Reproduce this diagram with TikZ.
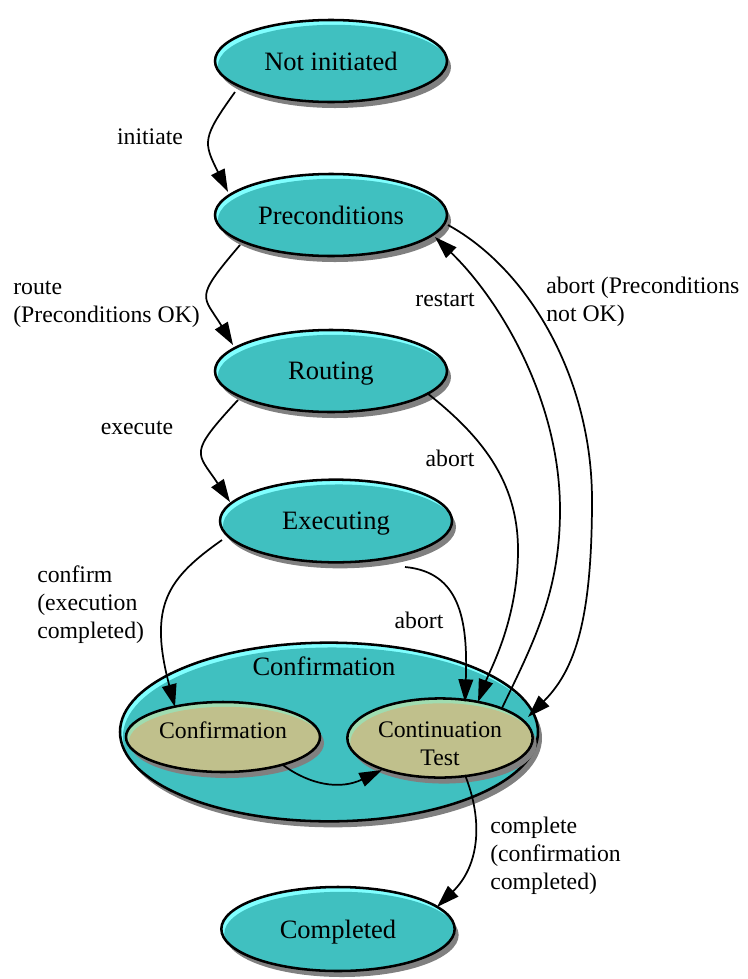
\documentclass[tikz,border=0pt]{standalone}
\usepackage{fontspec}
\setmainfont{Liberation Serif}
\usetikzlibrary{shapes.geometric,arrows.meta,calc,shadows}
\definecolor{teal0}{HTML}{40C0C0}
\definecolor{cyanhl}{HTML}{80FFFF}
\definecolor{khaki0}{HTML}{C0C08C}
\definecolor{minthl}{HTML}{A0DCB0}
\definecolor{shadowgray}{HTML}{808080}
\begin{document}
\begin{tikzpicture}[x=0.75pt,y=-0.75pt,
  hilite/.style 2 args={fill=#1, path picture={\fill[#2] let \p1=(path picture bounding box.north east), \p2=(path picture bounding box.center) in (\x2+2.2pt,\y2-3.6pt) ellipse [x radius=\x1-\x2, y radius=\y1-\y2];}},
  stateshape/.style 2 args={ellipse, draw=black, line width=1.9pt, inner sep=0pt, minimum width=#1, minimum height=#2, general shadow={fill=shadowgray, shadow xshift=3pt, shadow yshift=-4.5pt}},
  state/.style 2 args={stateshape={#1}{#2}, hilite={cyanhl}{teal0}, font=\fontsize{19.9}{23}\selectfont, text depth=0pt},
  substate/.style 2 args={stateshape={#1}{#2}, hilite={minthl}{khaki0}, font=\fontsize{17.8}{21}\selectfont, align=center},
  lbl/.style={font=\fontsize{17.8}{21}\selectfont, inner sep=0pt},
  edge/.style={line width=1.3pt, -{Triangle[length=17pt,width=11pt]}},
]
\useasboundingbox (0,0) rectangle (747,979);

\node[state={174pt}{61.5pt}] (ni) at (331,61) {Not initiated};
\node[state={174pt}{61.5pt}] (pc) at (331,215) {Preconditions};
\node[state={174pt}{61.5pt}] (rt) at (331,371) {Routing};
\node[state={174pt}{62pt}] (ex) at (336,521) {Executing};
\node[state={313.5pt}{134pt}] (conf) at (329,732) {};
\node[font=\fontsize{19.9}{23}\selectfont, inner sep=0pt] (conflbl) at (324,666) {Confirmation};
\node[substate={145.5pt}{52.5pt}, text depth=10.5pt] (cf) at (223,737) {Confirmation};
\node[substate={139pt}{56pt}] (ct) at (440,738) {\raisebox{0pt}[\dimexpr\height+9pt\relax]{Continuation}\\Test};
\node[state={175pt}{63pt}] (cp) at (338,929) {Completed};

\draw[edge] ([shift={(-96,31)}]ni.center) .. controls (202,138) and (203,142) .. ([shift={(-103,-23)}]pc.center);
\draw[edge] ([shift={(-91,30)}]pc.center) .. controls (193,300) and (203,295) .. ([shift={(-98,-26)}]rt.center);
\draw[edge] ([shift={(-93,29)}]rt.center) .. controls (187,455) and (197,452) .. ([shift={(-106,-19)}]ex.center);
\draw[edge] ([shift={(-114,19)}]ex.center) .. controls (168,578) and (148,605) .. ([shift={(-48,-30)}]cf.center);
\draw[edge] ([shift={(69,46)}]ex.center) .. controls (460,572) and (468,620) .. ([shift={(25,-36)}]ct.center);
\draw[edge] ([shift={(96,22)}]rt.center) .. controls (480,435) and (518,480) .. (518,550) .. controls (518,620) and (490,670) .. ([shift={(38,-36)}]ct.center);
\draw[edge] ([shift={(62,-30)}]ct.center) .. controls (535,640) and (560,590) .. (560,510) .. controls (560,400) and (500,300) .. ([shift={(104,22)}]pc.center);
\draw[edge] ([shift={(117,10)}]pc.center) .. controls (530,270) and (592,380) .. (592,500) .. controls (592,620) and (575,670) .. ([shift={(88,-21)}]ct.center);
\draw[edge] ([shift={(60,28)}]cf.center) .. controls (310,785) and (340,790) .. ([shift={(-58,32)}]ct.center);
\draw[edge] ([shift={(25,37)}]ct.center) .. controls (483,820) and (480,865) .. ([shift={(99,-22)}]cp.center);

\node[lbl] (l1) at (150,137) {initiate};
\node[lbl, align=left, anchor=west] (l2) at (13,304) {route\\(Preconditions OK)};
\node[lbl] (l3) at (137,428) {execute};
\node[lbl, align=left, anchor=west] (l4) at (37,605) {confirm\\(execution\\completed)};
\node[lbl] (l5) at (450,458) {abort};
\node[lbl] (l6) at (419,620) {abort};
\node[lbl] (l7) at (445,300) {restart};
\node[lbl, align=left, anchor=west] (l8) at (546,302) {abort (Preconditions\\not OK)};
\node[lbl, align=left, anchor=west] (l9) at (490,856) {complete\\(confirmation\\completed)};
\end{tikzpicture}
\end{document}
